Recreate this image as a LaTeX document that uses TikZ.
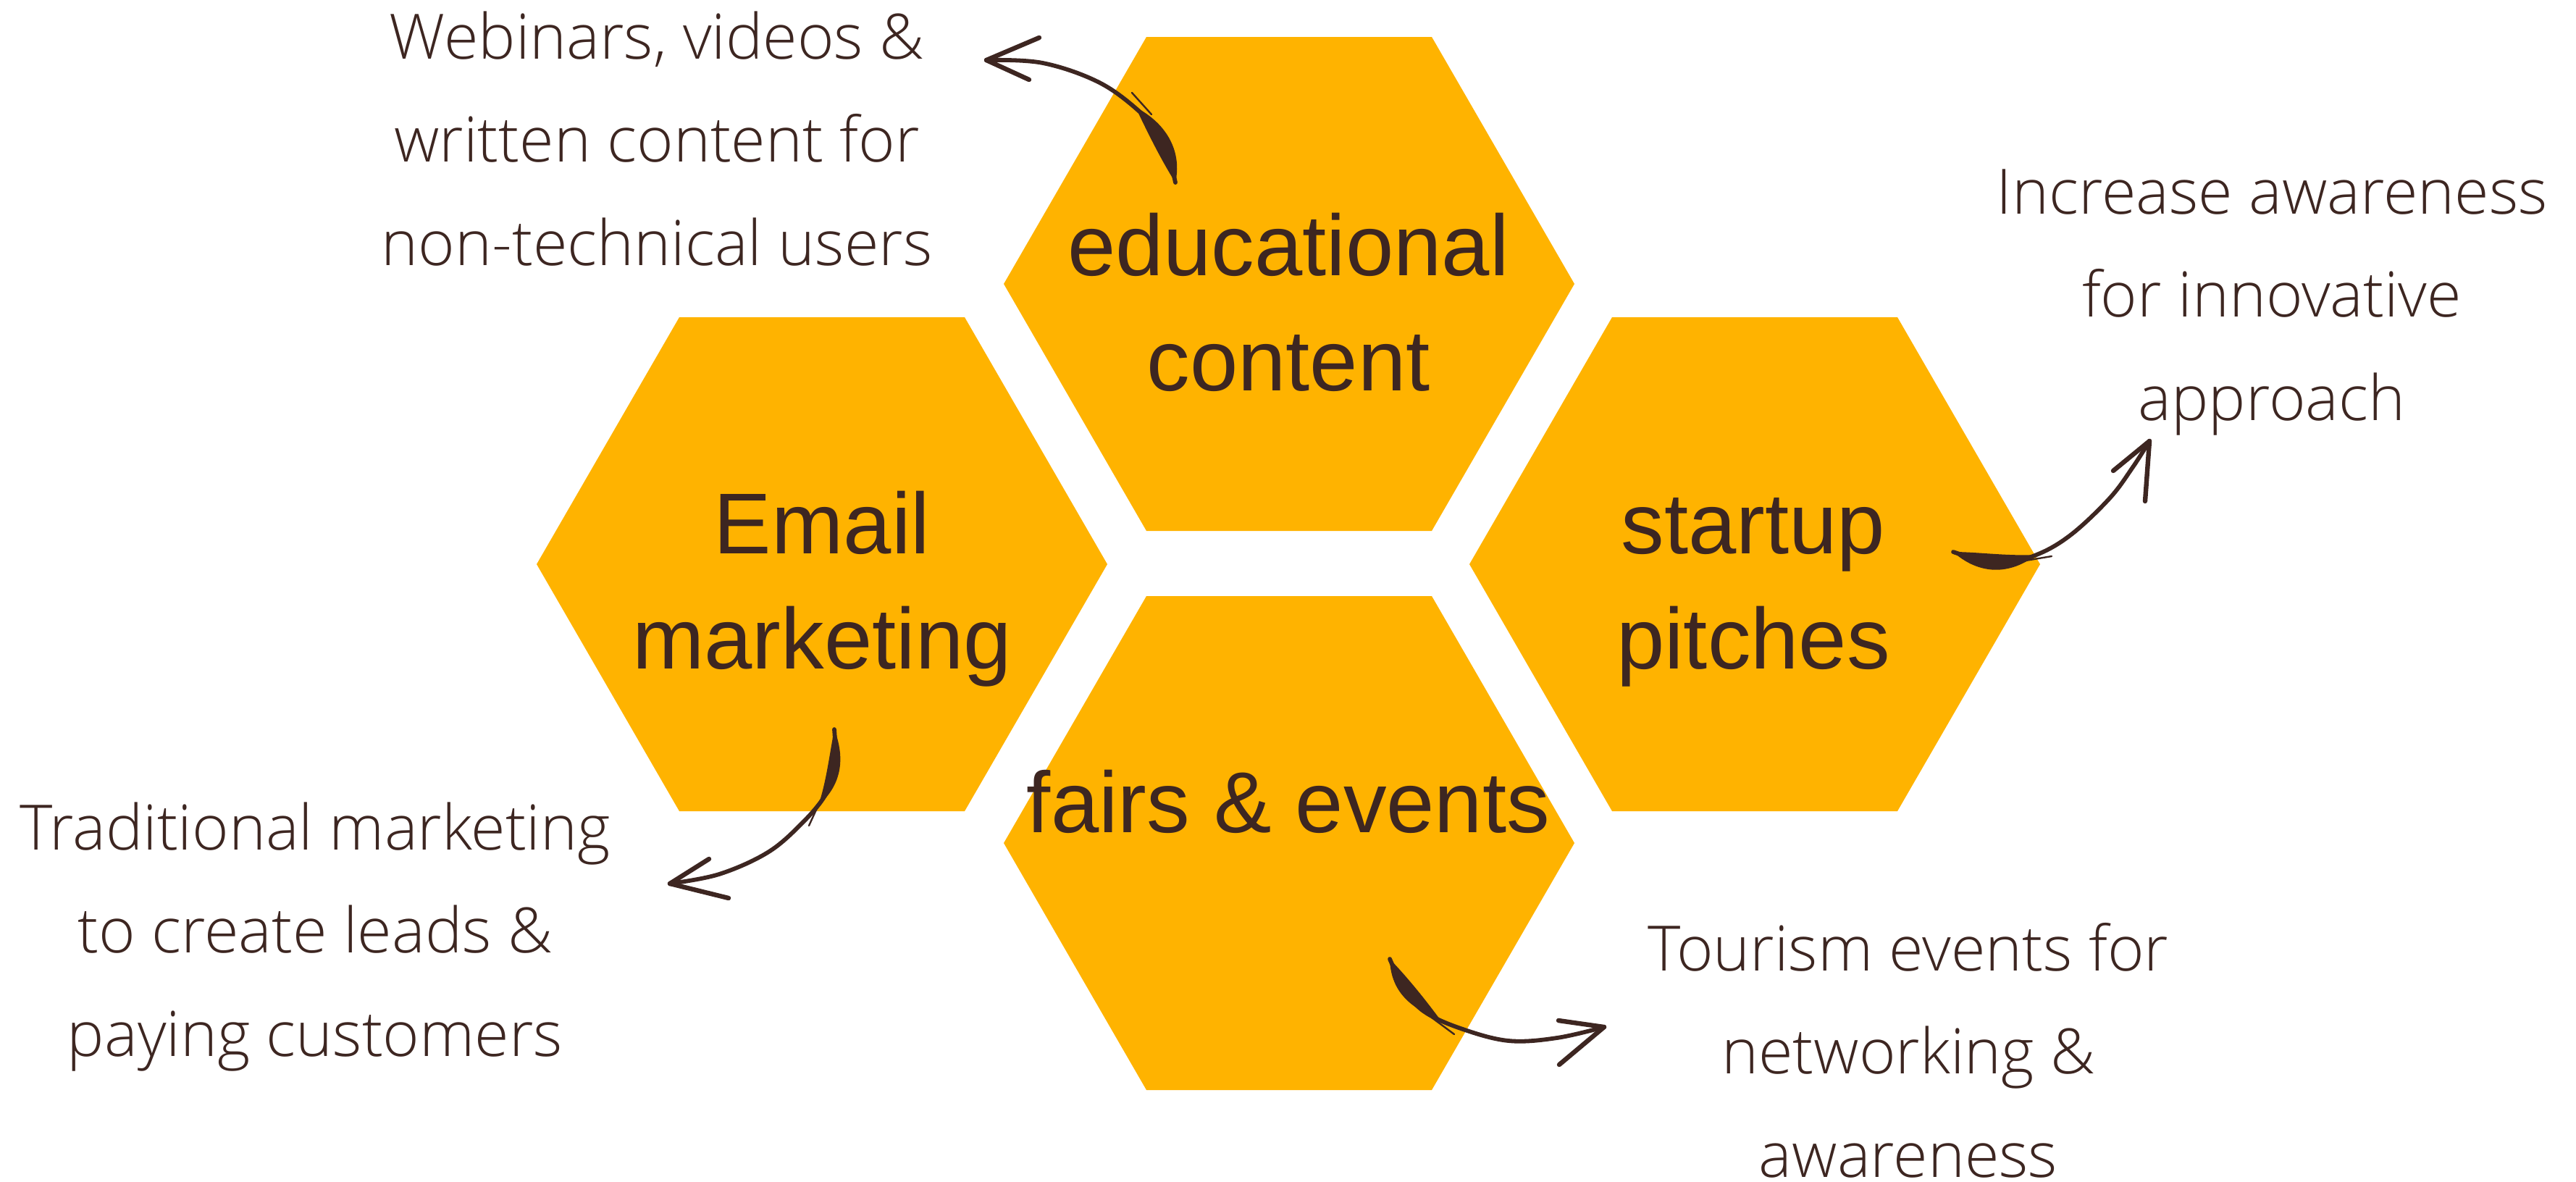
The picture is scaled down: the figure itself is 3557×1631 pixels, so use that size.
\documentclass[tikz,border=0pt]{standalone}
\usepackage{fontspec}
\setmainfont{Liberation Sans}
\newfontfamily\hexfont{Liberation Sans}
\IfFontExistsTF{Open Sans Light}{\newfontfamily\labelfont{Open Sans Light}}{\newfontfamily\labelfont{Open Sans}}
\definecolor{hexfill}{HTML}{FFB300}
\definecolor{ink}{HTML}{3D2621}
\tikzset{
  hextext/.style={font=\hexfont\fontsize{29.8}{39.6}\selectfont, text=ink, align=center, inner sep=0pt, anchor=base},
  labeltext/.style={font=\labelfont\fontsize{21.6}{35.6}\selectfont, text=ink, align=center, inner sep=0pt, anchor=base},
  stroke/.style={draw=ink, line width=1.45pt, line cap=round, line join=round},
  barb/.style={draw=ink, line width=1.6pt, line cap=round},
  brush/.style={fill=ink, draw=none},
  split/.style={draw=ink, line width=0.6pt, line cap=round},
}
\begin{document}
\begin{tikzpicture}[x=0.25pt,y=-0.25pt]
\useasboundingbox (0,0) rectangle (3557,1631);
% hexagon centres
\coordinate (edu) at (1780,392);
\coordinate (email) at (1135,779);
\coordinate (startup) at (2423,779);
\coordinate (fairs) at (1780,1164);
\foreach \c in {edu,email,startup,fairs}{
  \fill[hexfill] (\c) ++(394,0) -- ++(-197,341) -- ++(-394,0) -- ++(-197,-341) -- ++(197,-341) -- ++(394,0) -- cycle;
}
% hexagon texts (anchored at the baseline of their last line)
\node[hextext] (edut) at (1779,539) {educational\\content};
\node[hextext] (emailt) at (1135,923) {Email\\marketing};
\node[hextext] (startupt) at (2421,923) {startup\\pitches};
\node[hextext] (fairst) at (1779,1149) {fairs \& events};
% labels (anchored at the baseline of their last line)
\node[labeltext] (l1) at (907,366) {Webinars, videos \&\\written content for\\non-technical users};
\node[labeltext] (l2) at (3137,580) {Increase awareness\\for innovative\\approach};
\node[labeltext] (l3) at (435,1458) {Traditional marketing\\to create leads \&\\paying customers};
\node[labeltext] (l4) at (2635,1625) {Tourism events for\\networking \&\\awareness};
% arrow 1: educational -> webinars
\coordinate (a1t) at (1623,252);
\coordinate (a1e) at (1568,148);
\coordinate (a1h) at (1362,83);
\fill[brush] (a1t) .. controls (1632,212) and (1614,172) .. (a1e) .. controls (1586,186) and (1604,222) .. (a1t);
\draw[stroke] plot[smooth, tension=0.6] coordinates {(a1t) (1607,195) (1580,160) (1520,115) (1440,87) (a1h)};
\draw[split] (1563,128) -- (1590,158);
\draw[barb] (a1h) -- (1435,52);
\draw[barb] (a1h) -- (1421,110);
% arrow 2: startup -> increase awareness
\coordinate (a2t) at (2697,762);
\coordinate (a2e) at (2812,766);
\coordinate (a2h) at (2968,609);
\fill[brush] (a2t) .. controls (2730,762) and (2772,768) .. (a2e) .. controls (2770,798) and (2728,790) .. (a2t);
\draw[stroke] plot[smooth, tension=0.6] coordinates {(a2t) (2760,778) (a2e) (2860,738) (2913,688) (2945,645) (a2h)};
\draw[split] (2797,774) -- (2833,768);
\draw[barb] (a2h) -- (2918,650);
\draw[barb] (a2h) -- (2962,692);
% arrow 3: email -> traditional
\coordinate (a3t) at (1152,1007);
\coordinate (a3e) at (1130,1112);
\coordinate (a3h) at (925,1220);
\fill[brush] (a3t) .. controls (1167,1046) and (1163,1083) .. (a3e) .. controls (1141,1079) and (1145,1044) .. (a3t);
\draw[stroke] plot[smooth, tension=0.6] coordinates {(a3t) (1153,1057) (1140,1097) (1107,1137) (1060,1177) (993,1207) (a3h)};
\draw[split] (1133,1105) -- (1117,1140);
\draw[barb] (a3h) -- (979,1186);
\draw[barb] (a3h) -- (1006,1240);
% arrow 4: fairs -> tourism
\coordinate (a4t) at (1919,1324);
\coordinate (a4e) at (1988,1407);
\coordinate (a4h) at (2215,1418);
\fill[brush] (a4t) .. controls (1940,1346) and (1962,1372) .. (a4e) .. controls (1940,1390) and (1920,1362) .. (a4t);
\draw[stroke] plot[smooth, tension=0.6] coordinates {(a4t) (1940,1367) (1967,1397) (2017,1420) (2083,1437) (2150,1433) (a4h)};
\draw[split] (1977,1405) -- (2008,1428);
\draw[barb] (a4h) -- (2152,1409);
\draw[barb] (a4h) -- (2153,1470);
\end{tikzpicture}
\end{document}
